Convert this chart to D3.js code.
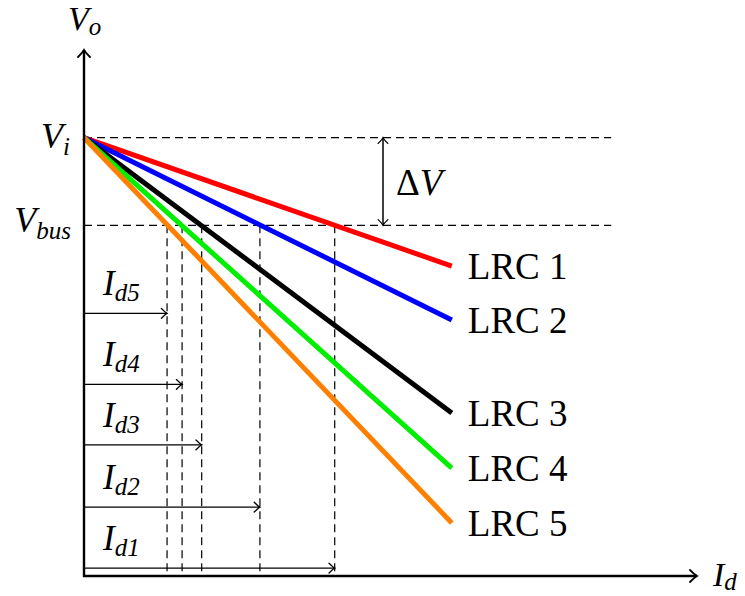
<!DOCTYPE html>
<html>
<head>
<meta charset="utf-8">
<script src="https://cdn.jsdelivr.net/npm/d3@7"></script>
<style>
  html, body { margin: 0; padding: 0; background: #fff; }
  svg text { font-family: "Liberation Serif", "Times New Roman", serif; fill: #000; }
</style>
</head>
<body>
<svg id="chart" width="745" height="596"></svg>
<script>
// Droop characteristics of five line regulating converters (LRC)
const series = ["LRC 1", "LRC 2", "LRC 3", "LRC 4", "LRC 5"];
const colors = ["#ff0000", "#0000ff", "#000000", "#00ee00", "#ff8000"];
const vi = 1.0;            // no-load output voltage
const vbus = 0.8;          // bus voltage
const idEnd = 6.0;         // current where each droop line is drawn to
const voAtEnd = [0.707, 0.584, 0.372, 0.246, 0.121];   // Vo reached at idEnd
const idAtBus = [4.09, 2.87, 1.92, 1.60, 1.355];       // current delivered at Vbus
const idLabels = ["d1", "d2", "d3", "d4", "d5"];
const idArrowRow = [0.018, 0.157, 0.299, 0.437, 0.599]; // vertical row of each Id arrow
const xMax = 10, yMax = 1.2, guideEnd = 8.6;

const svg = d3.select("#chart");
const ox = 84, oy = 576;
const x = d3.scaleLinear().domain([0, xMax]).range([ox, 697]);
const y = d3.scaleLinear().domain([0, yMax]).range([oy, 50]);

// arrow heads
const defs = svg.append("defs");
function head(id, size, sw) {
  defs.append("marker")
    .attr("id", id).attr("viewBox", "-12 -8 14 16")
    .attr("refX", 0).attr("refY", 0)
    .attr("markerUnits", "userSpaceOnUse")
    .attr("markerWidth", size * 14 / 8).attr("markerHeight", size * 16 / 8)
    .attr("orient", "auto-start-reverse")
    .append("path")
    .attr("d", "M-7,-6 Q-2,-1 0,0 Q-2,1 -7,6")
    .attr("fill", "none").attr("stroke", "#000").attr("stroke-width", sw)
    .attr("stroke-linecap", "round");
}
head("ah-big", 8, 1.8);
head("ah-small", 6.5, 1.6);

const dash = "8,5";

// horizontal guides at Vi and Vbus
svg.append("g").selectAll("line").data([vi, vbus]).join("line")
  .attr("x1", x(0)).attr("x2", x(guideEnd))
  .attr("y1", d => y(d)).attr("y2", d => y(d))
  .attr("stroke", "#000").attr("stroke-width", 1.2).attr("stroke-dasharray", dash);

// vertical guides at each Id
svg.append("g").selectAll("line").data(idAtBus).join("line")
  .attr("x1", d => x(d)).attr("x2", d => x(d))
  .attr("y1", y(vbus)).attr("y2", y(0))
  .attr("stroke", "#000").attr("stroke-width", 1.2).attr("stroke-dasharray", dash);

// Id arrows and labels
const idG = svg.append("g");
idAtBus.forEach((v, i) => {
  const yy = y(idArrowRow[i]);
  idG.append("line")
    .attr("x1", x(0)).attr("x2", x(v)).attr("y1", yy).attr("y2", yy)
    .attr("stroke", "#000").attr("stroke-width", 1.2)
    .attr("marker-end", "url(#ah-small)");
  const t = idG.append("text").attr("x", 103).attr("y", yy - 18).attr("font-size", 35);
  t.append("tspan").attr("font-style", "italic").text("I");
  t.append("tspan").attr("font-style", "italic").attr("font-size", 25).attr("dy", 6).text(idLabels[i]);
});

// droop lines
const line = d3.line().x(d => x(d[0])).y(d => y(d[1]));
svg.append("g").selectAll("path").data(series).join("path")
  .attr("d", (d, i) => line([[0, vi], [idEnd, voAtEnd[i]]]))
  .attr("fill", "none")
  .attr("stroke", (d, i) => colors[i])
  .attr("stroke-width", 5)
  .attr("stroke-linecap", "butt");

// series labels
svg.append("g").selectAll("text").data(series).join("text")
  .attr("x", x(idEnd) + 16)
  .attr("y", (d, i) => y(voAtEnd[i]) + 13)
  .attr("font-size", 37)
  .text(d => d);

// axes
svg.append("line").attr("x1", x(0)).attr("x2", x(0)).attr("y1", y(0) + 1).attr("y2", y(yMax))
  .attr("stroke", "#000").attr("stroke-width", 2.4).attr("marker-end", "url(#ah-big)");
svg.append("line").attr("x1", x(0) - 1).attr("x2", x(xMax)).attr("y1", y(0)).attr("y2", y(0))
  .attr("stroke", "#000").attr("stroke-width", 2.4).attr("marker-end", "url(#ah-big)");

// delta V arrow
svg.append("line").attr("x1", 383).attr("x2", 383).attr("y1", y(vi)).attr("y2", y(vbus))
  .attr("stroke", "#000").attr("stroke-width", 1.5)
  .attr("marker-start", "url(#ah-small)").attr("marker-end", "url(#ah-small)");
const dv = svg.append("text").attr("x", 396).attr("y", 195).attr("font-size", 37);
dv.append("tspan").text("Δ");
dv.append("tspan").attr("font-style", "italic").text("V");

// axis titles and level labels
function sub(xp, yp, main, s, anchor, size, dy) {
  const t = svg.append("text").attr("x", xp).attr("y", yp).attr("font-size", size || 36)
    .attr("text-anchor", anchor || "start");
  t.append("tspan").attr("font-style", "italic").text(main);
  t.append("tspan").attr("font-style", "italic").attr("font-size", 25).attr("dy", dy || 7).text(s);
}
sub(x(0) - 16, 30, "V", "o", "start", 34, 5);
sub(70, y(vi) + 10, "V", "i", "end");
sub(71, y(vbus) + 7, "V", "bus", "end");
sub(713, 586, "I", "d", "start", 34, 4);
</script>
</body>
</html>
